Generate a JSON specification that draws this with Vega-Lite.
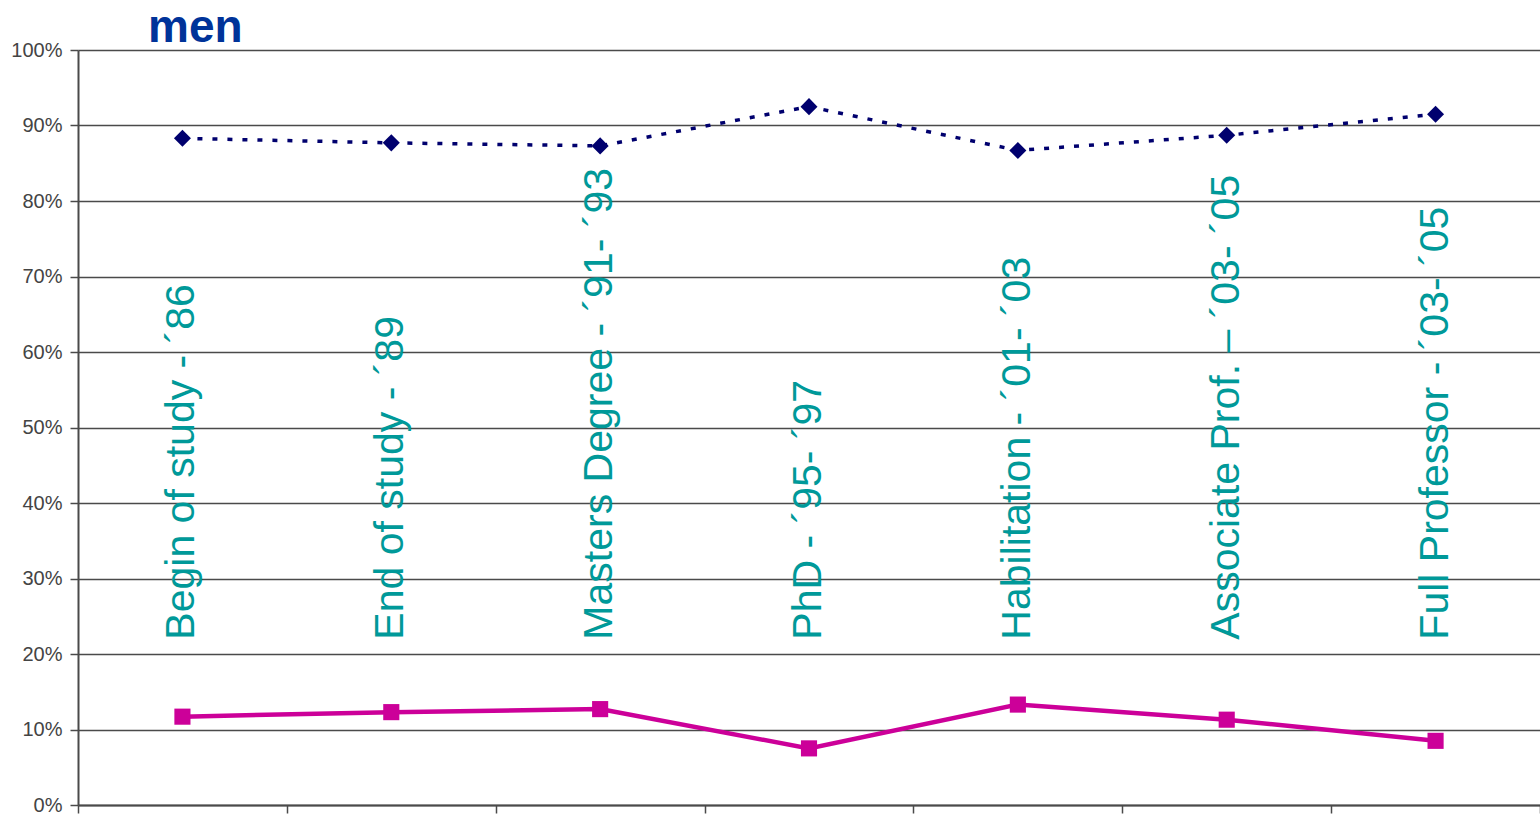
{
  "$schema": "https://vega.github.io/schema/vega-lite/v6.json",
  "width": 1462,
  "height": 755,
  "autosize": {"type": "none"},
  "padding": {"left": 78, "top": 50, "right": 0, "bottom": 10},
  "background": "white",
  "config": {"view": {"stroke": null}},
  "title": {
    "text": "men",
    "anchor": "start",
    "frame": "group",
    "dx": 70,
    "offset": -12,
    "fontSize": 46,
    "font": "Liberation Sans",
    "fontWeight": "bold",
    "color": "#003399"
  },
  "data": {
    "values": [
      {"stage": "Begin of study - ´86", "series": "men", "value": 88.3},
      {"stage": "End of study - ´89", "series": "men", "value": 87.7},
      {"stage": "Masters Degree - ´91- ´93", "series": "men", "value": 87.3},
      {"stage": "PhD - ´95- ´97", "series": "men", "value": 92.5},
      {"stage": "Habilitation - ´01- ´03", "series": "men", "value": 86.7},
      {"stage": "Associate Prof. – ´03- ´05", "series": "men", "value": 88.7},
      {"stage": "Full Professor - ´03- ´05", "series": "men", "value": 91.5},
      {"stage": "Begin of study - ´86", "series": "women", "value": 11.7},
      {"stage": "End of study - ´89", "series": "women", "value": 12.3},
      {"stage": "Masters Degree - ´91- ´93", "series": "women", "value": 12.7},
      {"stage": "PhD - ´95- ´97", "series": "women", "value": 7.5},
      {"stage": "Habilitation - ´01- ´03", "series": "women", "value": 13.3},
      {"stage": "Associate Prof. – ´03- ´05", "series": "women", "value": 11.3},
      {"stage": "Full Professor - ´03- ´05", "series": "women", "value": 8.5}
    ]
  },
  "encoding": {
    "x": {
      "field": "stage",
      "type": "nominal",
      "sort": null,
      "scale": {"type": "band", "paddingInner": 0, "paddingOuter": 0},
      "axis": {
        "title": null,
        "labels": false,
        "grid": false,
        "tickBand": "extent",
        "tickSize": 8,
        "tickColor": "#4a4a4a",
        "tickWidth": 1.5,
        "domainColor": "#4a4a4a",
        "domainWidth": 2
      }
    }
  },
  "layer": [
    {
      "transform": [{"filter": "datum.series === 'men'"}],
      "mark": {"type": "text", "angle": 270, "align": "left", "baseline": "alphabetic", "dy": 12, "fontSize": 41, "font": "Liberation Sans", "color": "#009999"},
      "encoding": {
        "y": {
          "datum": 21.9,
          "type": "quantitative",
          "scale": {"domain": [0, 100], "nice": false},
          "axis": {
            "title": null,
            "values": [0, 10, 20, 30, 40, 50, 60, 70, 80, 90, 100],
            "labelExpr": "datum.value + '%'",
            "grid": true,
            "gridColor": "#4a4a4a",
            "gridWidth": 1.6,
            "gridOpacity": 1,
            "domainColor": "#4a4a4a",
            "domainWidth": 2,
            "tickSize": 8,
            "tickColor": "#4a4a4a",
            "tickWidth": 1.5,
            "labelFont": "Liberation Sans",
            "labelFontSize": 20,
            "labelColor": "#444444",
            "labelPadding": 8
          }
        },
        "text": {"field": "stage"}
      }
    },
    {
      "transform": [{"filter": "datum.series === 'men'"}],
      "mark": {"type": "line", "color": "#00006e", "strokeWidth": 3.5, "strokeDash": [5, 10]},
      "encoding": {"y": {"field": "value", "type": "quantitative"}}
    },
    {
      "transform": [{"filter": "datum.series === 'men'"}],
      "mark": {"type": "point", "shape": "diamond", "filled": true, "size": 290, "color": "#00006e", "opacity": 1},
      "encoding": {"y": {"field": "value", "type": "quantitative"}}
    },
    {
      "transform": [{"filter": "datum.series === 'women'"}],
      "mark": {"type": "line", "color": "#cc0099", "strokeWidth": 4.5},
      "encoding": {"y": {"field": "value", "type": "quantitative"}}
    },
    {
      "transform": [{"filter": "datum.series === 'women'"}],
      "mark": {"type": "point", "shape": "square", "filled": true, "size": 260, "color": "#cc0099", "opacity": 1},
      "encoding": {"y": {"field": "value", "type": "quantitative"}}
    }
  ]
}
